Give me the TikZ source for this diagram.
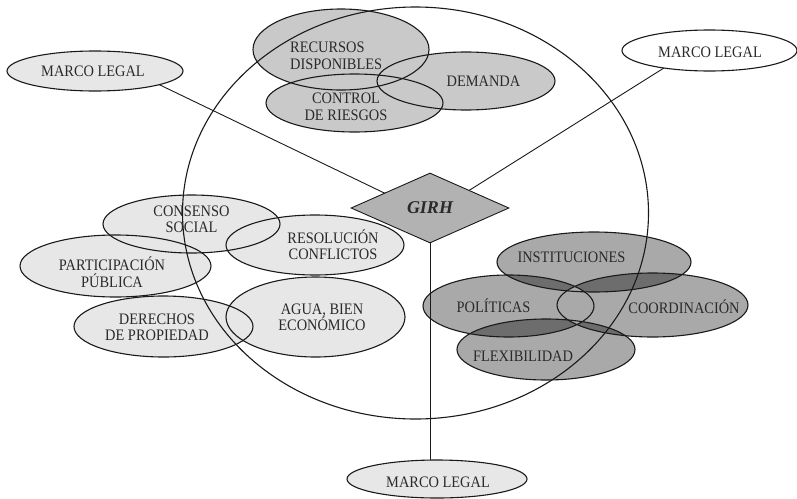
\documentclass[tikz,border=0pt]{standalone}
\usepackage{fontspec}
\setmainfont{Liberation Serif}
\newfontfamily\lblfont[FakeStretch=0.9]{Liberation Serif}
\usetikzlibrary{shapes.geometric}
\pgfdeclarelayer{fills}
\pgfdeclarelayer{lines}
\pgfsetlayers{fills,lines,main}
\definecolor{lightfill}{HTML}{E7E7E7}
\definecolor{midfill}{HTML}{C9C9C9}
\definecolor{girhfill}{HTML}{B2B2B2}
\definecolor{darkbase}{HTML}{A9A9A9}
\definecolor{darkover}{HTML}{6D6D6D}
\definecolor{txtc}{HTML}{2A2A2A}
\definecolor{linec}{HTML}{1A1A1A}
\begin{document}
\begin{tikzpicture}[x=1pt,y=-1pt,
  efill/.style={ellipse, inner sep=0pt, outer sep=0pt, draw=none},
  outl/.style={draw=linec, line width=1.1pt},
  lbl/.style={text=txtc, font=\lblfont\fontsize{16}{16.5}\selectfont, align=center, inner sep=0pt},
  one/.style={lbl, text height=10.5pt, text depth=0pt},
  conn/.style={draw=linec, line width=0.9pt},
  marco/.style={ellipse, inner sep=0pt, outer sep=0pt, draw=linec, line width=1.1pt}]
\useasboundingbox (0,0) rectangle (797,498);

% ---------- fills ----------
\begin{pgfonlayer}{fills}
% top cluster
\node[efill, fill=midfill, minimum width=176pt, minimum height=81pt] (rec) at (341,49.5) {};
\node[efill, fill=midfill, minimum width=178pt, minimum height=58pt] (dem) at (466,81) {};
\node[efill, fill=midfill, minimum width=177pt, minimum height=58pt] (ctl) at (354.5,103) {};
% left cluster
\node[efill, fill=lightfill, minimum width=177pt, minimum height=58pt] (con) at (191.5,224) {};
\node[efill, fill=lightfill, minimum width=178pt, minimum height=60pt] (res) at (315,245) {};
\node[efill, fill=lightfill, minimum width=191pt, minimum height=62pt] (par) at (115.5,266) {};
\node[efill, fill=lightfill, minimum width=179pt, minimum height=61pt] (der) at (163.5,326.5) {};
\node[efill, fill=lightfill, minimum width=179pt, minimum height=80pt] (agu) at (315.5,317) {};
% bottom-right cluster
\node[efill, fill=darkbase, minimum width=194pt, minimum height=60pt] (ins) at (594,262) {};
\node[efill, fill=darkbase, minimum width=171pt, minimum height=62pt] (pol) at (508.5,306) {};
\node[efill, fill=darkbase, minimum width=191pt, minimum height=64pt] (coo) at (652.5,305) {};
\node[efill, fill=darkbase, minimum width=178pt, minimum height=61pt] (fle) at (546,349.5) {};
% darker overlaps
\begin{scope}
  \clip (ins.center) ellipse [x radius=97pt, y radius=30pt];
  \fill[darkover] (pol.center) ellipse [x radius=85.5pt, y radius=31pt];
  \fill[darkover] (coo.center) ellipse [x radius=95.5pt, y radius=32pt];
\end{scope}
\begin{scope}
  \clip (fle.center) ellipse [x radius=89pt, y radius=30.5pt];
  \fill[darkover] (pol.center) ellipse [x radius=85.5pt, y radius=31pt];
  \fill[darkover] (coo.center) ellipse [x radius=95.5pt, y radius=32pt];
\end{scope}
\begin{scope}
  \clip (pol.center) ellipse [x radius=85.5pt, y radius=31pt];
  \fill[darkbase] (coo.center) ellipse [x radius=95.5pt, y radius=32pt];
\end{scope}
\end{pgfonlayer}

% ---------- big circle ----------
\coordinate (bc) at (415.5,213);
\draw[outl] (bc) ellipse [x radius=233pt, y radius=206pt];

% ---------- outlines ----------
\draw[outl] (rec.center) ellipse [x radius=88pt, y radius=40.5pt];
\draw[outl] (dem.center) ellipse [x radius=89pt, y radius=29pt];
\draw[outl] (ctl.center) ellipse [x radius=88.5pt, y radius=29pt];
\draw[outl] (con.center) ellipse [x radius=88.5pt, y radius=29pt];
\draw[outl] (res.center) ellipse [x radius=89pt, y radius=30pt];
\draw[outl] (par.center) ellipse [x radius=95.5pt, y radius=31pt];
\draw[outl] (der.center) ellipse [x radius=89.5pt, y radius=30.5pt];
\draw[outl] (agu.center) ellipse [x radius=89.5pt, y radius=40pt];
\draw[outl] (ins.center) ellipse [x radius=97pt, y radius=30pt];
\draw[outl] (pol.center) ellipse [x radius=85.5pt, y radius=31pt];
\draw[outl] (coo.center) ellipse [x radius=95.5pt, y radius=32pt];
\draw[outl] (fle.center) ellipse [x radius=89pt, y radius=30.5pt];

% ---------- labels ----------
\node[lbl, anchor=west, align=left] (t-rec) at (290,56) {RECURSOS\\DISPONIBLES};
\node[one] (t-dem) at (483.5,81) {DEMANDA};
\node[lbl] (t-ctl) at (346,107) {CONTROL\\DE RIESGOS};
\node[lbl] (t-con) at (191.5,219.5) {CONSENSO\\SOCIAL};
\node[lbl] (t-res) at (333,244.5) {RESOLUCIÓN\\CONFLICTOS};
\node[lbl] (t-par) at (112,272) {PARTICIPACIÓN\\PÚBLICA};
\node[lbl] (t-der) at (157,327.5) {DERECHOS\\DE PROPIEDAD};
\node[lbl] (t-agu) at (322,317.5) {AGUA, BIEN\\ECONÓMICO};
\node[one] (t-ins) at (571.5,257.5) {INSTITUCIONES};
\node[one] (t-pol) at (493.5,307) {POLÍTICAS};
\node[one] (t-coo) at (684,308) {COORDINACIÓN};
\node[one] (t-fle) at (523,356) {FLEXIBILIDAD};

% ---------- GIRH and MARCO LEGAL ----------
\node[diamond, draw=linec, fill=girhfill, line width=0.9pt, inner sep=0pt,
      minimum width=158pt, minimum height=70pt, text=txtc,
      font=\fontsize{18}{20}\selectfont\bfseries\itshape] (g) at (430,208) {GIRH};
\coordinate (gc) at (430,215);
\node[marco, fill=lightfill, minimum width=176pt, minimum height=40pt] (ml1) at (95,71) {};
\node[one] (t-ml1) at (93,71.5) {MARCO LEGAL};
\node[marco, fill=white, minimum width=175pt, minimum height=41pt] (ml2) at (709.5,50.5) {};
\node[one] (t-ml2) at (710,52) {MARCO LEGAL};
\node[marco, fill=lightfill, minimum width=180pt, minimum height=38pt] (mlb) at (437,479) {};
\node[one] (t-mlb) at (438,482) {MARCO LEGAL};

% ---------- connectors ----------
\begin{pgfonlayer}{lines}
\draw[conn] (gc) -- (ml1.-12);
\draw[conn] (gc) -- (ml2.201);
\end{pgfonlayer}
\draw[conn] (g.south) -- (g.south |- mlb.north);
\end{tikzpicture}
\end{document}
